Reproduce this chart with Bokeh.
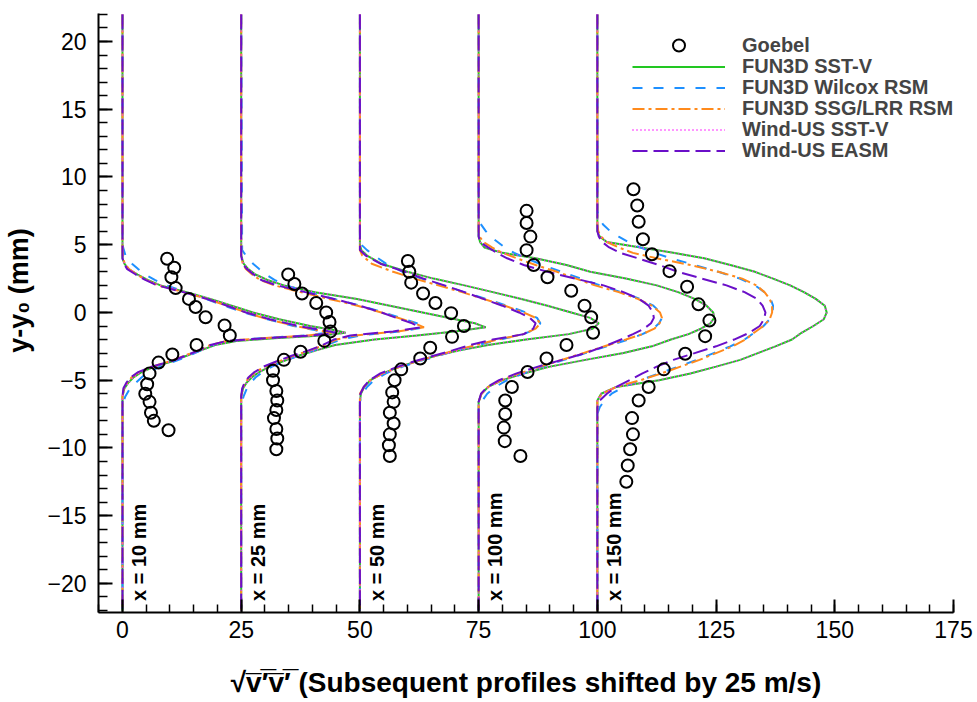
import math
from bokeh.plotting import figure
from bokeh.models import Range1d, SingleIntervalTicker, Legend, LegendItem
from bokeh.core.properties import value
from bokeh.embed import file_html
from bokeh.resources import INLINE

# Each profile is shifted by 25 m/s relative to the previous station
SHIFT = 25.0
STATIONS = ["x = 10 mm", "x = 25 mm", "x = 50 mm", "x = 100 mm", "x = 150 mm"]

# ---- x = 10 mm -------------------------------------------------------------
Y10 = [22, 5.0, 4.6, 4.0, 3.6, 3.2, 2.8, 2.4, 2.0, 1.5, 1.0, 0.5, 0.0, -0.5, -1.0, -1.3,
       -1.5, -1.7, -1.9, -2.1, -2.4, -2.8, -3.2, -3.6, -4.0, -4.4, -4.8, -5.2, -5.6, -6.2, -6.8, -22]
SST10 = [0, 0, 0, 0, 0.4, 1.3, 3.2, 5.3, 8.0, 13.5, 18.5, 23.0, 27.5, 33.0, 39.5, 44.5,
         47.0, 42.0, 32.0, 24.0, 19.5, 16.5, 13.5, 10.5, 6.8, 4.0, 2.3, 1.2, 0.4, 0, 0, 0]
WILCOX10 = [0, 0, 0.3, 0.8, 2.0, 3.3, 4.8, 6.8, 9.3, 13.3, 17.5, 21.5, 25.5, 30.5, 36.0, 40.5,
            43.0, 38.5, 29.0, 22.0, 19.0, 16.5, 14.0, 11.0, 8.0, 5.5, 4.0, 2.8, 1.6, 0.6, 0, 0]
SSG10 = [0, 0, 0, 0.1, 0.5, 1.4, 3.0, 5.0, 7.5, 12.8, 17.8, 22.0, 26.0, 30.5, 36.5, 41.0,
         44.0, 39.0, 29.5, 22.0, 18.5, 16.0, 13.0, 10.0, 6.3, 3.5, 1.9, 1.0, 0.3, 0, 0, 0]
EASM10 = [0, 0, 0, 0, 0.3, 1.0, 2.8, 4.8, 7.3, 12.8, 17.7, 22.0, 26.0, 31.0, 37.0, 42.0,
          45.0, 40.0, 30.0, 22.0, 18.5, 16.0, 13.2, 10.2, 6.1, 3.3, 1.7, 0.8, 0.2, 0, 0, 0]

# ---- x = 25 mm -------------------------------------------------------------
Y25 = [22, 4.6, 4.2, 3.6, 3.2, 2.8, 2.4, 2.0, 1.5, 1.0, 0.5, 0.0, -0.5, -0.8, -1.1, -1.4,
       -1.7, -2.0, -2.4, -2.8, -3.2, -3.6, -4.0, -4.4, -4.8, -5.2, -5.6, -6.2, -6.8, -22]
SST25 = [0, 0, 0, 0.5, 1.5, 3.0, 5.5, 9.0, 15.5, 24.4, 31.3, 38.2, 45.1, 49.2, 51.5, 45.0,
         37.0, 28.1, 19.8, 15.8, 12.0, 8.8, 6.0, 3.8, 2.2, 1.1, 0.4, 0, 0, 0]
WILCOX25 = [0, 0.2, 1.0, 2.5, 3.8, 5.2, 7.0, 9.5, 14.0, 19.5, 25.0, 30.0, 34.5, 37.0, 38.5, 33.5,
            25.0, 21.0, 18.0, 15.3, 12.0, 9.0, 6.5, 4.5, 3.0, 2.0, 1.2, 0.5, 0, 0]
SSG25 = [0, 0, 0, 0.3, 1.0, 2.3, 4.0, 7.0, 12.5, 18.5, 24.5, 29.5, 34.0, 36.5, 38.5, 33.0,
         24.0, 20.0, 17.5, 14.5, 11.0, 8.0, 5.0, 3.0, 1.7, 0.8, 0.3, 0, 0, 0]
EASM25 = [0, 0, 0, 0.3, 1.2, 2.6, 4.2, 7.5, 13.5, 19.5, 25.0, 29.5, 33.5, 36.0, 37.7, 32.0,
          23.0, 19.5, 17.2, 14.2, 10.6, 7.5, 4.7, 2.8, 1.5, 0.7, 0.2, 0, 0, 0]

# ---- x = 50 mm -------------------------------------------------------------
Y50 = [22, 5.6, 5.0, 4.6, 4.2, 3.6, 3.0, 2.5, 2.0, 1.5, 1.0, 0.5, 0.0, -0.4, -0.8, -1.2,
       -1.6, -2.0, -2.4, -2.8, -3.2, -3.6, -4.0, -4.5, -5.0, -5.5, -6.0, -6.6, -22]
SST50 = [0, 0, 0, 0.3, 1.5, 4.5, 10.0, 15.5, 22.0, 28.0, 34.0, 39.5, 44.5, 48.5, 50.3, 49.0,
         44.0, 35.0, 27.0, 21.0, 16.0, 12.0, 8.5, 4.8, 2.2, 0.9, 0.2, 0, 0]
WILCOX50 = [0, 0, 0.3, 1.5, 3.0, 5.5, 9.0, 13.0, 17.5, 22.0, 26.5, 31.0, 35.0, 37.3, 38.0, 37.2,
            34.5, 29.5, 25.0, 20.5, 16.5, 12.5, 9.0, 5.5, 3.0, 1.5, 0.5, 0, 0]
SSG50 = [0, 0, 0, 0, 0.5, 2.5, 7.0, 11.5, 16.5, 21.5, 26.0, 30.5, 34.5, 37.0, 38.0, 37.0,
         34.5, 29.0, 24.5, 20.0, 16.0, 12.0, 8.5, 4.8, 2.2, 0.8, 0, 0, 0]
EASM50 = [0, 0, 0, 0, 1.2, 4.3, 9.5, 13.4, 17.8, 22.0, 26.0, 30.0, 33.5, 35.8, 37.0, 36.5,
          34.5, 28.0, 23.3, 19.5, 15.5, 11.5, 8.0, 4.3, 2.0, 0.8, 0.1, 0, 0]

# ---- x = 100 mm ------------------------------------------------------------
Y100 = [22, 7.4, 6.6, 6.0, 5.6, 5.2, 4.8, 4.4, 4.0, 3.5, 3.0, 2.5, 2.0, 1.5, 1.0, 0.5, 0.0,
        -0.4, -0.8, -1.2, -1.6, -2.0, -2.5, -3.0, -3.5, -4.0, -4.5, -5.0, -5.5, -6.0, -6.6, -7.2, -22]
SST100 = [0, 0, 0, 0, 0, 0.3, 1.2, 5.0, 12.0, 18.5, 23.5, 31.0, 37.5, 42.0, 45.5, 48.0, 49.4,
          49.6, 48.8, 46.8, 44.2, 40.5, 36.5, 30.5, 22.5, 15.0, 9.5, 5.0, 2.0, 0.6, 0, 0, 0]
WILCOX100 = [0, 0, 0.3, 1.5, 2.5, 4.0, 5.5, 7.5, 10.0, 13.5, 17.5, 21.5, 25.5, 30.0, 34.0, 36.8, 38.3,
             38.6, 38.0, 36.8, 34.5, 31.5, 27.0, 22.5, 18.0, 13.5, 9.5, 6.0, 3.5, 1.8, 0.6, 0, 0]
SSG100 = [0, 0, 0, 0, 0.2, 1.0, 2.8, 5.0, 8.0, 12.0, 16.5, 20.5, 24.5, 29.5, 33.5, 36.5, 38.2,
          38.6, 38.1, 37.0, 34.5, 31.0, 26.5, 22.0, 17.5, 13.0, 8.5, 4.8, 2.0, 0.6, 0, 0, 0]
EASM100 = [0, 0, 0, 0, 0, 0.3, 2.0, 3.8, 6.0, 9.5, 14.5, 20.3, 26.3, 30.5, 33.8, 35.8, 36.7,
           36.9, 36.3, 34.8, 32.5, 30.0, 26.5, 22.5, 17.5, 12.5, 8.0, 4.3, 1.8, 0.5, 0, 0, 0]

# ---- x = 150 mm ------------------------------------------------------------
Y150 = [22, 7.5, 7.0, 6.5, 6.0, 5.6, 5.2, 4.8, 4.4, 4.0, 3.5, 3.0, 2.5, 2.0, 1.5, 1.0, 0.5, 0.0,
        -0.5, -1.0, -1.5, -2.0, -2.5, -3.0, -3.5, -4.0, -4.5, -5.0, -5.5, -6.0, -6.5, -7.0, -7.5, -22]
SST150 = [0, 0, 0, 0, 0, 0.5, 2.0, 9.1, 16.0, 22.5, 28.0, 33.2, 37.0, 40.6, 43.5, 46.0, 47.9, 48.3,
          47.7, 45.5, 43.0, 41.0, 37.5, 33.8, 30.1, 25.0, 19.6, 13.0, 4.0, 0.8, 0, 0, 0, 0]
WILCOX150 = [0, 0, 0.3, 1.2, 2.7, 4.5, 6.5, 9.0, 12.0, 15.5, 20.5, 25.5, 30.0, 33.2, 35.2, 36.5, 37.0, 36.9,
             36.3, 35.0, 33.0, 31.0, 28.0, 24.5, 21.0, 17.0, 13.0, 9.0, 5.5, 3.0, 1.5, 0.5, 0, 0]
SSG150 = [0, 0, 0, 0, 0.2, 0.8, 2.0, 4.5, 7.5, 12.5, 19.6, 25.5, 30.5, 33.5, 35.2, 36.3, 36.8, 36.8,
          36.3, 35.0, 33.0, 31.2, 28.5, 25.0, 21.5, 17.5, 13.5, 9.1, 4.0, 1.0, 0, 0, 0, 0]
EASM150 = [0, 0, 0, 0, 0, 0.3, 1.0, 2.5, 4.8, 8.5, 13.0, 17.0, 22.0, 27.2, 31.0, 33.6, 34.8, 35.4,
           35.1, 34.2, 32.0, 28.8, 25.0, 20.5, 16.0, 12.5, 9.5, 6.8, 4.0, 2.0, 0.5, 0, 0, 0]

# Wind-US SST-V coincides with FUN3D SST-V at every station
WSST10, WSST25, WSST50, WSST100, WSST150 = SST10, SST25, SST50, SST100, SST150

# ---- Goebel measurements (sqrt(v'v') in m/s, y - y0 in mm) ------------------
EXP_Y10 = [3.96, 3.3, 2.6, 1.8, 1.0, 0.4, -0.35, -0.96, -1.7, -2.4, -3.1, -3.7, -4.5, -5.3,
           -6.0, -6.6, -7.4, -8.0, -8.7]
EXP_V10 = [9.4, 10.9, 10.3, 11.2, 14.0, 15.4, 17.5, 21.5, 22.6, 15.6, 10.5, 7.6, 5.7, 5.2,
           4.8, 5.7, 6.0, 6.6, 9.7]
EXP_Y25 = [2.8, 2.1, 1.4, 0.7, 0.0, -0.7, -1.4, -2.1, -2.9, -3.5, -4.3, -5.0, -5.8, -6.5,
           -7.2, -7.8, -8.6, -9.3, -10.1]
EXP_V25 = [9.9, 11.2, 12.8, 15.8, 17.9, 18.6, 18.8, 17.5, 12.5, 9.0, 6.7, 6.7, 7.4, 7.6,
           7.4, 6.9, 7.4, 7.6, 7.4]
EXP_Y50 = [3.8, 3.0, 2.2, 1.4, 0.7, -0.05, -1.0, -1.8, -2.6, -3.4, -4.2, -5.0, -5.9, -6.6,
           -7.4, -8.2, -9.0, -9.8, -10.6]
EXP_V50 = [10.1, 10.4, 10.8, 13.3, 15.9, 19.2, 21.9, 19.4, 14.8, 12.7, 8.7, 7.3, 6.8, 7.1,
           6.3, 7.1, 6.3, 6.1, 6.3]
EXP_Y100 = [7.5, 6.6, 5.6, 4.6, 3.5, 2.6, 1.6, 0.5, -0.35, -1.5, -2.4, -3.4, -4.4, -5.5,
            -6.5, -7.5, -8.5, -9.5, -10.6]
EXP_V100 = [10.1, 10.1, 10.9, 10.1, 11.6, 14.5, 19.5, 22.3, 23.7, 24.1, 18.5, 14.3, 10.3, 7.0,
            5.6, 5.6, 5.3, 5.5, 8.8]
EXP_Y150 = [9.1, 7.9, 6.7, 5.4, 4.3, 3.05, 1.9, 0.6, -0.6, -1.75, -3.05, -4.2, -5.5, -6.5,
            -7.8, -9.0, -10.1, -11.3, -12.5]
EXP_V150 = [7.6, 8.4, 8.7, 9.6, 11.5, 15.2, 18.9, 21.3, 23.6, 22.7, 18.5, 14.0, 10.8, 8.7,
            7.3, 7.5, 6.9, 6.4, 6.1]

PROFILE_Y = [Y10, Y25, Y50, Y100, Y150]
MODELS = [
    # label, values per station, colour, dash
    ("FUN3D SST-V", [SST10, SST25, SST50, SST100, SST150], "#22c722", "solid"),
    ("FUN3D Wilcox RSM", [WILCOX10, WILCOX25, WILCOX50, WILCOX100, WILCOX150], "#1e90ff", "10 11"),
    ("FUN3D SSG/LRR RSM", [SSG10, SSG25, SSG50, SSG100, SSG150], "#ff8a1c", "12 4 3 4"),
    ("Wind-US SST-V", [WSST10, WSST25, WSST50, WSST100, WSST150], "#ff30ff", "1 3"),
    ("Wind-US EASM", [EASM10, EASM25, EASM50, EASM100, EASM150], "#6a0fc8", "15 6"),
]
EXP_Y = [EXP_Y10, EXP_Y25, EXP_Y50, EXP_Y100, EXP_Y150]
EXP_V = [EXP_V10, EXP_V25, EXP_V50, EXP_V100, EXP_V150]

FONT = "Liberation Sans"
FRAME_BOTTOM = 612   # screen row of the x axis
ROW0, ROW_STEP = 45, 21   # legend row centres, screen pixels

p = figure(width=977, height=702, output_backend="svg", toolbar_location=None,
           x_range=Range1d(-5.05, 175), y_range=Range1d(-22.15, 22.07),
           min_border_left=98, min_border_right=24, min_border_top=13, min_border_bottom=90)
p.outline_line_color = None
p.xgrid.visible = False
p.ygrid.visible = False
p.background_fill_color = "white"
p.border_fill_color = "white"

p.xaxis.ticker = SingleIntervalTicker(interval=25, num_minor_ticks=5)
p.yaxis.ticker = SingleIntervalTicker(interval=5, num_minor_ticks=5)
for ax in (p.xaxis[0], p.yaxis[0]):
    ax.axis_line_width = 2
    ax.axis_line_color = "black"
    ax.major_tick_out = 0
    ax.minor_tick_out = 0
    ax.major_tick_line_width = 2
    ax.minor_tick_line_width = 1.5
    ax.major_label_text_font = FONT
    ax.major_label_text_font_size = "23px"
    ax.major_label_text_color = "black"
    ax.axis_label_text_font = FONT
    ax.axis_label_text_font_style = "bold"
    ax.axis_label_text_font_size = "27px"
    ax.axis_label_text_color = "black"
p.xaxis.axis_label_text_font_size = "28px"
p.xaxis.major_tick_in = 13
p.xaxis.minor_tick_in = 8
p.yaxis.major_tick_in = 14
p.yaxis.minor_tick_in = 9
p.xaxis.major_label_standoff = 8
p.yaxis.major_label_standoff = 12
p.xaxis.axis_label = "\u221av\u0305\u2032\u0305v\u0305\u2032\u0305 (Subsequent profiles shifted by 25 m/s)"
p.yaxis.axis_label = "\u00a0" * 6 + "y-y\u2080 (mm)"
p.xaxis.axis_label_standoff = 26
p.yaxis.axis_label_standoff = 10

line_renderers = {}
for label, per_station, color, dash in MODELS:
    rs = []
    for k, (ys, vals) in enumerate(zip(PROFILE_Y, per_station)):
        shift = SHIFT * k
        xs = [v + shift for v in vals]
        r = p.line(xs, ys, line_color=color, line_width=2, line_dash=dash)
        rs.append(r)
    line_renderers[label] = rs

exp_rs = []
for k, (ys, vs) in enumerate(zip(EXP_Y, EXP_V)):
    shift = SHIFT * k
    r = p.scatter([v + shift for v in vs], ys, marker="circle", size=12,
                  fill_color=None, line_color="black", line_width=2)
    exp_rs.append(r)

# station tags written vertically next to each profile's baseline
p.text(x=[SHIFT * k + 3.5 for k in range(len(STATIONS))], y=[-21.3] * len(STATIONS),
       text=STATIONS, angle=math.pi / 2, text_font=value(FONT), text_font_style="bold",
       text_font_size="20px", text_align="left", text_baseline="middle", text_color="black")

# one single-entry legend per row keeps the rows tightly and evenly spaced
entries = [("Goebel", exp_rs[0], 30)]
for label, _, _, _ in MODELS:
    entries.append((label, line_renderers[label][0], 19))

for i, (label, rend, gh) in enumerate(entries):
    centre = ROW0 + ROW_STEP * i
    box_h = max(gh, 23)
    bottom = FRAME_BOTTOM - (centre + box_h / 2)
    lg = Legend(items=[LegendItem(label=label, renderers=[rend])],
                location=(534, bottom), padding=0, margin=0, spacing=0,
                glyph_width=93, glyph_height=gh, label_height=19, label_standoff=17,
                label_text_font=FONT, label_text_font_style="bold",
                label_text_font_size="20px", label_text_baseline="middle",
                border_line_color=None, background_fill_alpha=0)
    p.add_layout(lg)

open("out.html", "w").write(file_html(p, INLINE))
